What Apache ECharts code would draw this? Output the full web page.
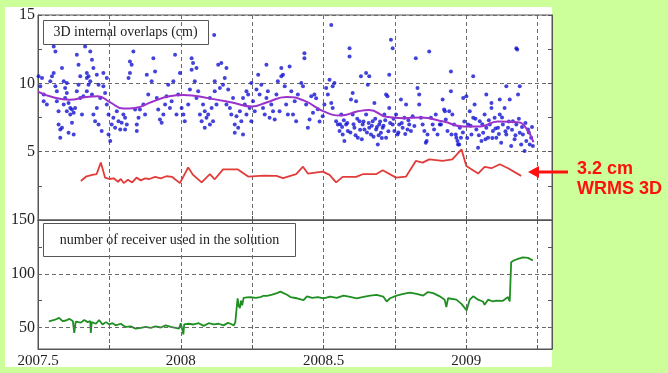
<!DOCTYPE html>
<html>
<head>
<meta charset="utf-8">
<title>3D internal overlaps</title>
<script src="https://cdn.jsdelivr.net/npm/echarts@6/dist/echarts.min.js"></script>
<style>
  html, body { margin: 0; padding: 0; background: #ccfe99; }
  #chart { width: 668px; height: 373px; }
</style>
</head>
<body>
<div id="chart"></div>
<script>
// Tick labels
var xTickLabels = [2007.5, 2008, 2008.5, 2009];
var topYLabels = [5, 10, 15];
var bottomYLabels = [50, 100, 150];
var bottomYTicks = [50, 75, 100, 125, 150];

// 3D internal overlaps (cm), daily points [year, cm]
var overlapPoints = [
  [2007.502,10.51],[2007.514,10.39],[2007.508,9.78],[2007.520,9.18],[2007.520,8.69],[2007.531,8.45],
  [2007.543,10.15],[2007.549,10.51],[2007.555,10.75],[2007.555,12.69],[2007.561,12.33],[2007.561,9.78],
  [2007.566,9.42],[2007.566,8.69],[2007.572,7.96],[2007.572,6.99],[2007.578,6.63],[2007.578,6.02],
  [2007.584,11.12],[2007.584,6.75],[2007.590,10.15],[2007.590,8.45],[2007.595,9.66],[2007.595,8.93],
  [2007.601,10.02],[2007.601,9.30],[2007.601,7.96],[2007.607,8.57],[2007.607,6.38],[2007.613,8.20],
  [2007.613,7.72],[2007.619,8.08],[2007.619,7.11],[2007.625,7.84],[2007.625,6.26],[2007.630,8.20],
  [2007.636,12.09],[2007.636,9.42],[2007.642,11.36],[2007.642,9.90],[2007.648,10.51],[2007.648,8.93],
  [2007.654,7.72],[2007.659,9.05],[2007.665,12.69],[2007.671,10.75],[2007.671,10.39],[2007.671,9.42],
  [2007.677,10.51],[2007.677,9.90],[2007.683,12.33],[2007.683,10.15],[2007.689,11.72],[2007.689,9.18],
  [2007.694,11.12],[2007.694,7.72],[2007.700,7.23],[2007.706,10.63],[2007.706,8.20],[2007.712,9.90],
  [2007.712,6.99],[2007.718,8.93],[2007.723,6.51],[2007.729,10.75],[2007.729,9.78],[2007.735,9.30],
  [2007.741,10.39],[2007.741,8.45],[2007.747,7.72],[2007.747,6.26],[2007.753,5.78],[2007.758,6.99],
  [2007.764,7.48],[2007.770,6.75],[2007.776,7.96],[2007.782,7.23],[2007.788,6.63],[2007.793,7.11],
  [2007.799,7.72],[2007.805,7.48],[2007.805,6.63],[2007.811,6.99],[2007.817,10.39],[2007.822,11.60],
  [2007.822,10.75],[2007.828,11.36],[2007.834,12.33],[2007.840,8.08],[2007.846,6.99],[2007.846,6.51],
  [2007.852,7.48],[2007.857,8.08],[2007.869,8.45],[2007.875,7.72],[2007.881,10.63],[2007.886,9.18],
  [2007.898,10.15],[2007.904,11.84],[2007.910,10.87],[2007.916,8.93],[2007.921,8.08],[2007.927,7.35],
  [2007.933,7.11],[2007.939,7.72],[2007.945,8.45],[2007.950,9.05],[2007.956,9.90],[2007.962,8.20],
  [2007.968,8.69],[2007.974,10.15],[2007.980,12.09],[2007.985,7.72],[2007.991,9.18],[2007.997,10.75],
  [2008.003,8.20],[2008.009,7.72],[2008.014,7.23],[2008.026,8.45],[2008.032,9.54],[2008.038,11.84],
  [2008.038,11.00],[2008.043,11.48],[2008.049,10.15],[2008.055,11.12],[2008.055,8.93],[2008.061,9.42],
  [2008.067,7.72],[2008.073,7.23],[2008.078,8.45],[2008.084,7.96],[2008.084,6.75],[2008.090,7.48],
  [2008.096,7.72],[2008.102,6.99],[2008.102,8.93],[2008.108,8.20],[2008.113,7.23],[2008.117,13.54],
  [2008.119,10.15],[2008.119,9.42],[2008.125,8.45],[2008.131,11.36],[2008.137,9.66],[2008.142,11.48],
  [2008.148,9.90],[2008.154,10.39],[2008.160,11.12],[2008.160,8.45],[2008.166,9.54],[2008.172,8.20],
  [2008.177,7.72],[2008.183,8.93],[2008.189,6.99],[2008.189,6.38],[2008.195,7.60],[2008.201,6.75],
  [2008.207,7.96],[2008.212,7.23],[2008.218,8.93],[2008.218,6.26],[2008.224,8.45],[2008.230,9.42],
  [2008.230,7.72],[2008.236,9.18],[2008.241,8.20],[2008.247,10.02],[2008.247,7.23],[2008.253,8.69],
  [2008.259,7.96],[2008.265,9.54],[2008.271,10.63],[2008.276,9.18],[2008.282,9.90],[2008.288,8.20],
  [2008.294,7.72],[2008.300,11.36],[2008.300,8.93],[2008.305,9.42],[2008.311,7.48],[2008.317,8.45],
  [2008.323,7.96],[2008.329,7.35],[2008.335,9.18],[2008.340,10.15],[2008.346,7.96],[2008.352,11.12],
  [2008.352,10.51],[2008.358,10.63],[2008.364,9.78],[2008.369,8.45],[2008.375,7.72],[2008.381,11.24],
  [2008.387,9.42],[2008.393,7.72],[2008.399,8.69],[2008.404,7.23],[2008.410,9.18],[2008.422,10.02],
  [2008.428,9.78],[2008.433,12.21],[2008.433,11.84],[2008.439,8.45],[2008.445,6.75],[2008.451,7.35],
  [2008.457,9.05],[2008.463,7.84],[2008.468,9.18],[2008.474,8.90],[2008.480,8.10],[2008.486,7.20],
  [2008.497,7.60],[2008.503,8.45],[2008.509,9.66],[2008.515,9.18],[2008.521,10.27],[2008.527,14.27],
  [2008.527,8.57],[2008.532,9.78],[2008.532,8.20],[2008.538,10.02],[2008.544,7.23],[2008.550,6.99],
  [2008.556,6.51],[2008.558,7.00],[2008.562,7.72],[2008.565,6.80],[2008.567,6.26],[2008.571,7.30],
  [2008.573,5.78],[2008.579,6.99],[2008.583,7.10],[2008.585,6.51],[2008.591,12.57],[2008.591,11.97],
  [2008.594,6.40],[2008.596,8.81],[2008.602,9.30],[2008.602,7.72],[2008.605,7.00],[2008.608,6.75],
  [2008.612,6.20],[2008.614,8.69],[2008.618,7.40],[2008.620,6.02],[2008.626,7.23],[2008.628,6.60],
  [2008.631,10.51],[2008.634,5.90],[2008.637,6.99],[2008.640,7.20],[2008.643,6.63],[2008.649,10.75],
  [2008.649,7.72],[2008.652,6.40],[2008.655,9.90],[2008.658,7.10],[2008.660,10.51],[2008.660,6.75],
  [2008.666,6.26],[2008.669,6.90],[2008.672,7.23],[2008.675,6.10],[2008.678,8.57],[2008.681,7.40],
  [2008.684,6.63],[2008.687,6.80],[2008.690,5.53],[2008.693,6.20],[2008.695,6.99],[2008.698,7.20],
  [2008.701,6.38],[2008.704,6.00],[2008.707,6.75],[2008.710,6.90],[2008.713,7.72],[2008.716,7.30],
  [2008.719,9.18],[2008.719,6.02],[2008.724,9.05],[2008.727,6.50],[2008.730,10.63],[2008.730,8.20],
  [2008.733,7.10],[2008.736,13.18],[2008.742,12.57],[2008.742,6.99],[2008.745,7.40],[2008.748,6.51],
  [2008.754,7.72],[2008.759,6.26],[2008.762,6.40],[2008.765,6.99],[2008.771,8.81],[2008.774,7.10],
  [2008.777,6.75],[2008.783,7.48],[2008.786,6.30],[2008.789,8.45],[2008.794,6.63],[2008.797,7.30],
  [2008.800,6.99],[2008.806,6.51],[2008.812,7.60],[2008.818,6.87],[2008.823,11.84],[2008.829,9.66],
  [2008.835,9.18],[2008.835,8.45],[2008.841,7.48],[2008.847,6.99],[2008.853,6.51],[2008.858,5.66],
  [2008.861,5.78],[2008.864,6.26],[2008.870,12.33],[2008.876,7.48],[2008.882,6.99],[2008.887,6.63],
  [2008.893,7.72],[2008.899,6.26],[2008.907,6.99],[2008.911,6.99],[2008.917,8.81],[2008.922,8.08],
  [2008.925,7.96],[2008.928,7.35],[2008.934,6.51],[2008.940,7.96],[2008.946,10.87],[2008.946,9.42],
  [2008.948,6.26],[2008.951,7.72],[2008.957,6.99],[2008.963,6.26],[2008.965,6.02],[2008.969,5.78],
  [2008.971,5.53],[2008.975,5.53],[2008.977,6.75],[2008.981,6.02],[2008.988,6.40],[2008.989,8.93],
  [2008.993,7.20],[2009.000,9.05],[2009.003,6.00],[2009.006,6.99],[2009.012,7.96],[2009.015,6.90],
  [2009.018,6.26],[2009.024,10.51],[2009.024,7.48],[2009.029,8.45],[2009.032,7.40],[2009.035,6.63],
  [2009.041,5.29],[2009.044,6.20],[2009.047,7.23],[2009.053,5.78],[2009.056,7.00],[2009.059,6.38],
  [2009.064,7.72],[2009.067,5.90],[2009.070,6.75],[2009.070,9.18],[2009.076,6.02],[2009.079,7.30],
  [2009.082,6.99],[2009.088,8.20],[2009.088,8.57],[2009.091,6.00],[2009.093,6.51],[2009.099,7.48],
  [2009.102,6.70],[2009.105,6.02],[2009.111,6.75],[2009.114,6.30],[2009.117,7.72],[2009.117,8.81],
  [2009.122,5.66],[2009.125,7.50],[2009.128,6.99],[2009.134,8.20],[2009.137,6.50],[2009.140,6.26],
  [2009.140,9.78],[2009.146,6.75],[2009.149,7.20],[2009.152,8.81],[2009.157,5.41],[2009.160,6.60],
  [2009.163,7.23],[2009.169,5.90],[2009.172,6.20],[2009.175,12.57],[2009.178,12.48],[2009.175,6.99],
  [2009.181,9.18],[2009.184,7.40],[2009.187,6.38],[2009.187,9.78],[2009.192,5.53],[2009.195,6.80],
  [2009.198,6.26],[2009.204,5.05],[2009.207,7.10],[2009.210,5.78],[2009.216,6.63],[2009.219,6.40],
  [2009.222,5.53],[2009.227,6.02],[2009.230,6.80],[2009.233,5.41]
];

// Smoothed overlaps (purple curve)
var trendPoints = [
  [2007.5,9.4],[2007.55,9.0],[2007.61,8.8],[2007.67,9.0],[2007.71,9.05],[2007.75,8.65],
  [2007.8,8.15],[2007.84,8.2],[2007.9,8.65],[2007.96,9.05],[2008.01,9.15],[2008.1,8.9],
  [2008.18,8.6],[2008.25,8.3],[2008.3,8.6],[2008.37,9.0],[2008.43,8.75],[2008.5,7.95],
  [2008.56,7.65],[2008.62,7.95],[2008.66,8.05],[2008.72,7.55],[2008.78,7.45],[2008.84,7.5],
  [2008.92,7.2],[2008.99,6.85],[2009.05,6.85],[2009.11,7.2],[2009.18,7.15],[2009.21,6.7],
  [2009.235,5.7]
];

// WRMS 3D (red curve)
var wrmsPoints = [
  [2007.65,2.85],[2007.67,3.2],[2007.69,3.3],[2007.705,3.35],[2007.72,4.2],[2007.735,3.1],
  [2007.75,3.0],[2007.765,3.05],[2007.78,2.8],[2007.79,3.0],[2007.80,2.7],[2007.815,2.95],
  [2007.83,2.75],[2007.845,3.1],[2007.86,2.9],[2007.875,3.05],[2007.89,3.0],[2007.91,3.15],
  [2007.93,3.05],[2007.95,3.2],[2007.97,3.15],[2007.997,2.7],[2008.026,3.85],[2008.043,3.3],
  [2008.073,2.75],[2008.102,3.35],[2008.119,2.98],[2008.148,3.7],[2008.2,3.7],[2008.236,3.18],
  [2008.29,3.25],[2008.335,3.23],[2008.358,3.06],[2008.404,3.35],[2008.428,3.9],[2008.445,3.4],
  [2008.497,3.54],[2008.521,3.3],[2008.544,2.75],[2008.567,3.16],[2008.614,3.16],[2008.637,3.35],
  [2008.684,3.35],[2008.707,3.64],[2008.754,3.1],[2008.789,3.18],[2008.823,4.32],[2008.847,4.2],
  [2008.87,4.44],[2008.917,4.32],[2008.951,4.44],[2008.983,5.17],[2009.0,3.96],[2009.041,3.4],
  [2009.064,3.88],[2009.088,3.79],[2009.117,4.08],[2009.146,3.79],[2009.192,3.23]
];

// Number of receivers used in the solution (green curve)
var receiverPoints = [
  [2007.538,55.8],[2007.557,57],[2007.574,59],[2007.586,56],[2007.598,56.5],[2007.610,58],
  [2007.622,56],[2007.627,45],[2007.632,55.5],[2007.650,54.5],[2007.662,57],[2007.674,55],
  [2007.683,56],[2007.685,45],[2007.688,55],[2007.703,53.5],[2007.714,57],[2007.726,52.8],
  [2007.738,55],[2007.749,53],[2007.761,54],[2007.772,52],[2007.790,53.5],[2007.807,50.5],
  [2007.825,51],[2007.842,49],[2007.860,49.7],[2007.877,50.5],[2007.895,49.7],[2007.912,51],
  [2007.930,50],[2007.947,52],[2007.965,50.5],[2007.982,49.7],[2007.994,49],[2008.000,54],
  [2008.006,53],[2008.009,43.6],[2008.012,53],[2008.028,53.5],[2008.045,52.8],[2008.063,54],
  [2008.080,51.5],[2008.098,54],[2008.115,53],[2008.133,53.5],[2008.150,52],[2008.165,54.3],
  [2008.174,53.5],[2008.186,52],[2008.191,55],[2008.199,77.2],[2008.203,70],[2008.207,68],
  [2008.211,75],[2008.215,70.6],[2008.220,77.5],[2008.232,78],[2008.244,78.3],[2008.262,77.5],
  [2008.279,78.3],[2008.290,79.5],[2008.302,79.5],[2008.320,80.5],[2008.337,82],[2008.349,83.4],
  [2008.360,82],[2008.372,80.5],[2008.384,78.3],[2008.407,77.2],[2008.430,75.5],[2008.442,79],
  [2008.460,77.5],[2008.480,78.3],[2008.500,77],[2008.523,78.8],[2008.546,77.5],[2008.570,79.7],
  [2008.593,78.5],[2008.616,77.2],[2008.640,78.5],[2008.663,79.7],[2008.686,80.3],[2008.709,78.8],
  [2008.721,74.2],[2008.733,77.2],[2008.756,79.7],[2008.779,81.2],[2008.802,82.4],[2008.826,81.2],
  [2008.849,79.7],[2008.866,83],[2008.884,82],[2008.907,79],[2008.924,75.9],[2008.930,69],
  [2008.936,77.2],[2008.965,75.9],[2008.983,72],[2008.995,68],[2009.001,65.8],[2009.012,76],
  [2009.024,79],[2009.041,75.9],[2009.058,74.2],[2009.064,71.2],[2009.076,75.9],[2009.093,74.2],
  [2009.105,75],[2009.128,74.8],[2009.146,78.3],[2009.152,74.2],[2009.157,110.8],[2009.166,112.3],
  [2009.181,113.8],[2009.198,115.3],[2009.216,114.8],[2009.222,116.4],[2009.233,112.3]
];

var serif = '"Liberation Serif", "DejaVu Serif", serif';
var dash = { color: '#6a6a6a', width: 1, type: [4, 3] };
var frame = { color: '#555', width: 1 };

function isIn(list, v) {
    for (var i = 0; i < list.length; i++) {
        if (Math.abs(list[i] - v) < 1e-6) return true;
    }
    return false;
}

var xBase = {
    type: 'value', min: 2007.5, max: 2009.3, interval: 0.25,
    axisLine: { lineStyle: frame },
    axisTick: { inside: true, length: 4, lineStyle: frame },
    axisLabel: { show: false },
    splitLine: { show: false }
};

var chart = echarts.init(document.getElementById('chart'));

var option = {
    backgroundColor: '#ccfe99',
    animation: false,
    grid: [
        { left: 38, right: 116, top: 15, height: 205, show: true, borderColor: '#555', borderWidth: 1 },
        { left: 38, right: 116, top: 220, height: 129, show: true, borderColor: '#555', borderWidth: 1 }
    ],
    xAxis: [
        echarts.util.merge({ gridIndex: 0, position: 'bottom', splitLine: { show: true, lineStyle: dash } }, xBase),
        echarts.util.merge({ gridIndex: 0, position: 'top' }, xBase),
        echarts.util.merge({
            gridIndex: 1, position: 'bottom',
            splitLine: { show: true, lineStyle: dash },
            axisLabel: {
                show: true, color: '#222', fontFamily: serif, fontSize: 15, margin: 5,
                formatter: function (v) { return isIn(xTickLabels, v) ? String(v) : ''; }
            }
        }, xBase)
    ],
    yAxis: [
        {
            gridIndex: 0, type: 'value', min: 0, max: 15, interval: 5, position: 'left',
            axisLine: { show: true, lineStyle: frame },
            axisTick: { show: true, inside: true, length: 4, lineStyle: frame },
            minorTick: { show: true, splitNumber: 2, length: 4, lineStyle: frame },
            axisLabel: {
                color: '#222', fontFamily: serif, fontSize: 16, margin: 3,
                formatter: function (v) { return isIn(topYLabels, v) ? String(v) : ''; }
            },
            splitLine: { show: true, lineStyle: dash }
        },
        {
            gridIndex: 0, type: 'value', min: 0, max: 15, interval: 5, position: 'right',
            axisLine: { show: true, lineStyle: frame },
            axisTick: { show: true, inside: true, length: 4, lineStyle: frame },
            minorTick: { show: true, splitNumber: 2, length: 4, lineStyle: frame },
            axisLabel: { show: false },
            splitLine: { show: false }
        },
        {
            gridIndex: 1, type: 'value', min: 30, max: 150, position: 'left',
            axisLine: { show: true, lineStyle: frame },
            axisTick: { show: true, inside: true, length: 4, lineStyle: frame, customValues: bottomYTicks },
            axisLabel: { color: '#222', fontFamily: serif, fontSize: 16, margin: 3, customValues: bottomYLabels },
            splitLine: { show: false }
        },
        {
            gridIndex: 1, type: 'value', min: 30, max: 150, position: 'right',
            axisLine: { show: true, lineStyle: frame },
            axisTick: { show: true, inside: true, length: 4, lineStyle: frame, customValues: bottomYTicks },
            axisLabel: { show: false },
            splitLine: { show: false }
        }
    ],
    series: [
        {
            name: 'overlaps', type: 'scatter', xAxisIndex: 0, yAxisIndex: 0,
            symbolSize: 4, itemStyle: { color: '#1414d2' },
            data: overlapPoints, z: 3
        },
        {
            name: 'trend', type: 'line', xAxisIndex: 0, yAxisIndex: 0,
            smooth: 0.5, showSymbol: false, lineStyle: { color: '#9c32cc', width: 2 },
            data: trendPoints, z: 4
        },
        {
            name: 'WRMS 3D', type: 'line', xAxisIndex: 0, yAxisIndex: 0,
            showSymbol: false, lineStyle: { color: '#e23c3a', width: 1.8 },
            data: wrmsPoints, z: 4
        },
        {
            name: 'receivers', type: 'line', xAxisIndex: 2, yAxisIndex: 2,
            showSymbol: false, lineStyle: { color: '#1f8f22', width: 1.8 },
            data: receiverPoints, z: 4,
            markLine: {
                silent: true, symbol: 'none', label: { show: false },
                lineStyle: dash,
                data: [{ yAxis: 50 }, { yAxis: 100 }]
            }
        }
    ],
    graphic: [
        // white sheet behind the plot
        { type: 'rect', left: 5, top: 7, z: -100, shape: { width: 547, height: 360 }, style: { fill: '#fff' } },
        {
            type: 'group', left: 43, top: 20, z: 100,
            children: [
                { type: 'rect', shape: { x: 0, y: 0, width: 165, height: 24 }, style: { fill: '#fff', stroke: '#555', lineWidth: 1 } },
                { type: 'text', x: 82, y: 12, style: { text: '3D internal overlaps (cm)', font: '14px ' + serif, fill: '#222', align: 'center', verticalAlign: 'middle' } }
            ]
        },
        {
            type: 'group', left: 43, top: 223, z: 100,
            children: [
                { type: 'rect', shape: { x: 0, y: 0, width: 252, height: 33 }, style: { fill: '#fff', stroke: '#555', lineWidth: 1 } },
                { type: 'text', x: 126, y: 17, style: { text: 'number of receiver used in the solution', font: '14px ' + serif, fill: '#222', align: 'center', verticalAlign: 'middle' } }
            ]
        },
        // red annotation
        { type: 'line', z: 100, shape: { x1: 568, y1: 172, x2: 536, y2: 172 }, style: { stroke: '#ff1010', lineWidth: 3 } },
        { type: 'polygon', z: 100, shape: { points: [[528, 172], [539, 166], [539, 178]] }, style: { fill: '#ff1010' } },
        { type: 'text', z: 100, left: 577, top: 160, style: { text: '3.2 cm', font: 'bold 18px "Liberation Sans", Arial, sans-serif', fill: '#ff1010' } },
        { type: 'text', z: 100, left: 577, top: 180, style: { text: 'WRMS 3D', font: 'bold 18px "Liberation Sans", Arial, sans-serif', fill: '#ff1010' } }
    ]
};

chart.setOption(option);
</script>
</body>
</html>
